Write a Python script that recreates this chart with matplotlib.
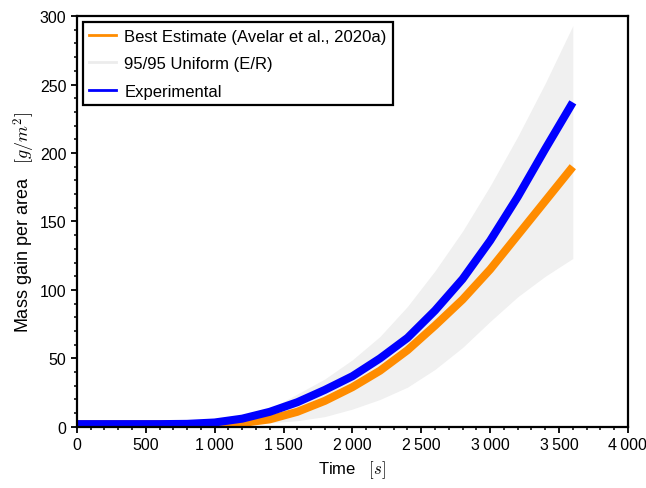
import numpy as np
import matplotlib
matplotlib.use('Agg')
import matplotlib.pyplot as plt
from matplotlib.lines import Line2D
from matplotlib.ticker import MultipleLocator, FuncFormatter

plt.rcParams['font.family'] = ['Liberation Sans', 'DejaVu Sans']
plt.rcParams['mathtext.fontset'] = 'cm'

# time [s]
t = [0, 200, 400, 600, 800, 1000, 1200, 1400, 1600, 1800, 2000, 2200, 2400, 2600, 2800, 3000, 3200, 3400, 3600]

# mass gain per area [g/m^2]
experimental = [2, 2, 2, 2, 2.2, 3.2, 6, 11, 18, 27, 37, 50, 65, 85, 108, 136, 168, 203, 237]
best_estimate = [2, 2, 2, 2, 2, 2.1, 2.8, 5.5, 11, 19, 29, 41, 56, 74, 93, 115, 140, 165, 190]
band_upper = [2, 2, 2, 2, 2.3, 3, 6, 13, 24, 35, 49, 66, 88, 114, 143, 176, 212, 251, 293]
band_lower = [2, 2, 2, 2, 1.8, 1.5, 2, 3, 4.5, 7.5, 13, 20, 29, 42, 58, 77, 95, 110, 123]

fig = plt.figure(figsize=(6.46, 4.89), dpi=100)
ax = fig.add_axes([0.119, 0.125, 0.853, 0.840])

ax.fill_between(t, band_lower, band_upper, color='#f0f0f0', lw=0)
ax.plot(t, best_estimate, color='darkorange', lw=5.8, solid_capstyle='butt')
ax.plot(t, experimental, color='blue', lw=5.8, solid_capstyle='butt')

ax.set_xlim(0, 4000)
ax.set_ylim(0, 300)
ax.xaxis.set_major_locator(MultipleLocator(500))
ax.xaxis.set_minor_locator(MultipleLocator(100))
ax.yaxis.set_major_locator(MultipleLocator(50))
ax.yaxis.set_minor_locator(MultipleLocator(10))
ax.xaxis.set_major_formatter(FuncFormatter(lambda v, p: '{:,.0f}'.format(v).replace(',', '\u2009')))

for s in ax.spines.values():
    s.set_linewidth(1.6)
ax.tick_params(which='major', length=4, width=1.3, labelsize=11.5, direction='out')
ax.tick_params(which='minor', length=2.5, width=1.1, direction='out')

ax.set_xlabel('Time   $[s]$', fontsize=12)
ax.set_ylabel('Mass gain per area   $[g/m^2]$', fontsize=13, labelpad=2)

handles = [Line2D([], [], color='darkorange', lw=2),
           Line2D([], [], color='#ececec', lw=2),
           Line2D([], [], color='blue', lw=2)]
labels = ['Best Estimate (Avelar et al., 2020a)', '95/95 Uniform (E/R)', 'Experimental']
leg = ax.legend(handles, labels, loc='upper left', fontsize=12, fancybox=False,
                framealpha=1, edgecolor='black', handlelength=1.6,
                handletextpad=0.5, borderaxespad=0.35, labelspacing=0.75)
leg.get_frame().set_linewidth(1.6)

fig.savefig('out.png', dpi=100)
